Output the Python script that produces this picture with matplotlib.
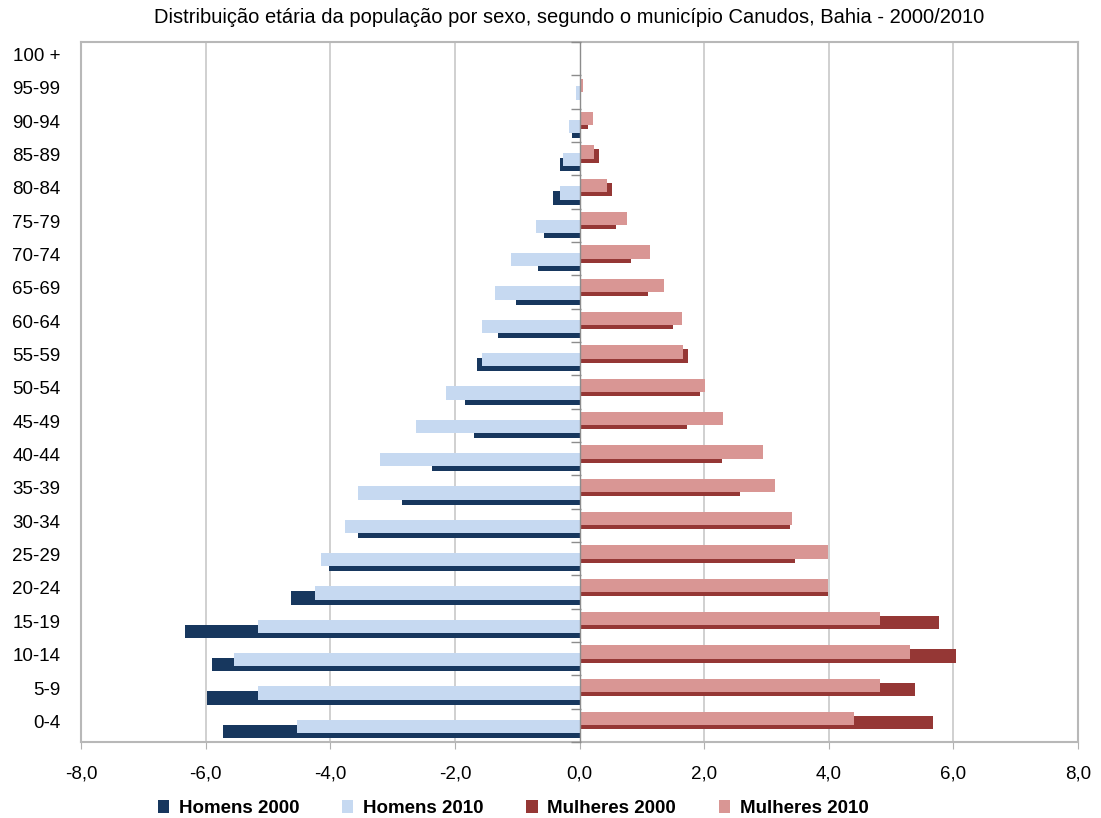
# piramide etaria - Canudos, Bahia 2000/2010
from matplotlib import pyplot as plt
import numpy as np

plt.rcParams['font.family'] = ['Liberation Sans', 'DejaVu Sans']

faixas = ['0-4', '5-9', '10-14', '15-19', '20-24', '25-29', '30-34', '35-39',
          '40-44', '45-49', '50-54', '55-59', '60-64', '65-69', '70-74',
          '75-79', '80-84', '85-89', '90-94', '95-99', '100 +']

# percentuais (homens negativos no grafico)
homens_2000 = [5.72, 5.98, 5.90, 6.33, 4.63, 4.02, 3.56, 2.85, 2.37, 1.69, 1.84,
               1.64, 1.31, 1.02, 0.67, 0.57, 0.42, 0.32, 0.12, 0.0, 0.0]
homens_2010 = [4.53, 5.16, 5.55, 5.16, 4.25, 4.15, 3.77, 3.56, 3.20, 2.62, 2.14,
               1.56, 1.56, 1.36, 1.10, 0.70, 0.32, 0.26, 0.17, 0.06, 0.0]
mulheres_2000 = [5.67, 5.39, 6.04, 5.77, 3.99, 3.46, 3.38, 2.57, 2.29, 1.73, 1.93,
                 1.74, 1.50, 1.10, 0.82, 0.59, 0.52, 0.31, 0.14, 0.03, 0.0]
mulheres_2010 = [4.40, 4.83, 5.31, 4.83, 3.99, 3.99, 3.41, 3.13, 2.95, 2.31, 2.02,
                 1.66, 1.64, 1.35, 1.13, 0.77, 0.44, 0.24, 0.21, 0.06, 0.0]

cor_h2000 = '#17375E'
cor_h2010 = '#C6D9F1'
cor_m2000 = '#953735'
cor_m2010 = '#D99694'

fig = plt.figure(figsize=(11.01, 8.18), dpi=100)
ax = fig.add_axes([0.0736, 0.0929, 0.9055, 0.8558])

y = np.arange(len(faixas))
h = 0.4

ax.barh(y - 0.18, -np.array(homens_2000), height=h, color=cor_h2000, label='Homens 2000', zorder=3)
ax.barh(y - 0.03, -np.array(homens_2010), height=h, color=cor_h2010, label='Homens 2010', zorder=4)
ax.barh(y + 0.08, mulheres_2000, height=h, color=cor_m2000, label='Mulheres 2000', zorder=3)
ax.barh(y + 0.20, mulheres_2010, height=h, color=cor_m2010, label='Mulheres 2010', zorder=4)

ax.set_xlim(-8, 8)
ax.set_ylim(-0.5, len(faixas) - 0.5)
xt = np.arange(-8, 9, 2)
ax.set_xticks(xt)
ax.set_xticklabels([('%.1f' % v).replace('.', ',') for v in xt], fontsize=13.5)
# rotulos um pouco acima do centro da categoria, como no original
ax.set_yticks(y + 0.12)
ax.set_yticklabels(faixas, fontsize=13.5)
ax.tick_params(axis='y', length=0, pad=15)
ax.tick_params(axis='x', length=5, color='#B0B0B0', pad=12)

for v in xt[1:-1]:
    if v != 0:
        ax.axvline(v, color='#C8C8C8', lw=1.2, zorder=1)
ax.axvline(0, color='#8C8C8C', lw=1.0, zorder=5)
# marcas do eixo de categorias
ax.plot(np.zeros(len(faixas) + 1) - 0.05, np.arange(len(faixas) + 1) - 0.5, '_',
        color='#8C8C8C', markersize=7, zorder=5, clip_on=False)

for s in ax.spines.values():
    s.set_color('#B8B8B8')
    s.set_linewidth(1.5)

fig.text(0.517, 0.979,
         'Distribuição etária da população por sexo, segundo o município Canudos, Bahia - 2000/2010',
         fontsize=14.5, ha='center', va='center')

leg = fig.legend(loc='center', bbox_to_anchor=(0.466, 0.012), ncol=4, frameon=False,
                 handlelength=0.6, handleheight=0.7, columnspacing=2.3, handletextpad=0.5,
                 borderaxespad=0, borderpad=0,
                 prop={'weight': 'bold', 'size': 13.5})

fig.savefig('out.png', dpi=100)
